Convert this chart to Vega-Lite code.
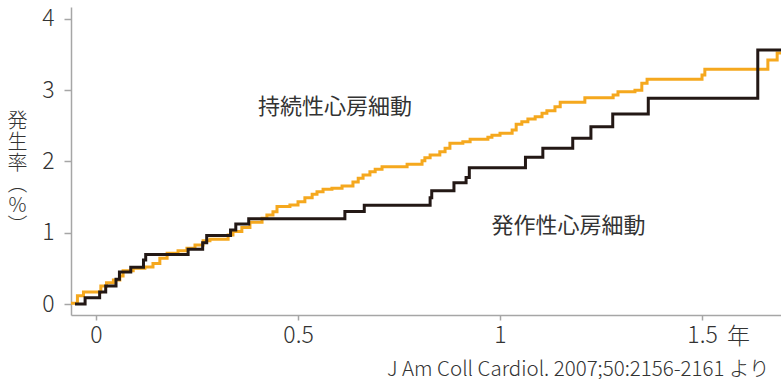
{
  "$schema": "https://vega.github.io/schema/vega-lite/v6.json",
  "width": 710,
  "height": 308,
  "autosize": {"type": "none"},
  "padding": {"left": 71, "top": 7, "right": 0, "bottom": 64},
  "background": "white",
  "config": {
    "view": {"stroke": null},
    "font": "Noto Sans CJK JP",
    "axis": {
      "grid": false,
      "domainColor": "#a6a6a6",
      "tickColor": "#a6a6a6",
      "domainWidth": 1.5,
      "tickWidth": 1.5,
      "labelColor": "#333333",
      "labelFont": "Noto Sans CJK JP",
      "labelFontSize": 23,
      "labelFontWeight": 300,
      "titleColor": "#333333",
      "titleFont": "Noto Sans CJK JP"
    }
  },
  "datasets": {
    "curves": [
      {"type": "持続性", "x": -0.064, "y": 0.01},
      {"type": "持続性", "x": -0.046, "y": 0.116},
      {"type": "持続性", "x": -0.031, "y": 0.168},
      {"type": "持続性", "x": 0.012, "y": 0.253},
      {"type": "持続性", "x": 0.026, "y": 0.299},
      {"type": "持続性", "x": 0.043, "y": 0.337},
      {"type": "持続性", "x": 0.059, "y": 0.393},
      {"type": "持続性", "x": 0.067, "y": 0.467},
      {"type": "持続性", "x": 0.092, "y": 0.501},
      {"type": "持続性", "x": 0.121, "y": 0.52},
      {"type": "持続性", "x": 0.141, "y": 0.568},
      {"type": "持続性", "x": 0.158, "y": 0.641},
      {"type": "持続性", "x": 0.176, "y": 0.712},
      {"type": "持続性", "x": 0.203, "y": 0.748},
      {"type": "持続性", "x": 0.225, "y": 0.782},
      {"type": "持続性", "x": 0.245, "y": 0.828},
      {"type": "持続性", "x": 0.265, "y": 0.888},
      {"type": "持続性", "x": 0.282, "y": 0.908},
      {"type": "持続性", "x": 0.327, "y": 0.968},
      {"type": "持続性", "x": 0.339, "y": 1.018},
      {"type": "持続性", "x": 0.361, "y": 1.074},
      {"type": "持続性", "x": 0.381, "y": 1.147},
      {"type": "持続性", "x": 0.411, "y": 1.203},
      {"type": "持続性", "x": 0.423, "y": 1.249},
      {"type": "持続性", "x": 0.438, "y": 1.295},
      {"type": "持続性", "x": 0.448, "y": 1.368},
      {"type": "持続性", "x": 0.48, "y": 1.389},
      {"type": "持続性", "x": 0.5, "y": 1.436},
      {"type": "持続性", "x": 0.517, "y": 1.492},
      {"type": "持続性", "x": 0.535, "y": 1.54},
      {"type": "持続性", "x": 0.547, "y": 1.576},
      {"type": "持続性", "x": 0.562, "y": 1.61},
      {"type": "持続性", "x": 0.584, "y": 1.624},
      {"type": "持続性", "x": 0.609, "y": 1.656},
      {"type": "持続性", "x": 0.636, "y": 1.712},
      {"type": "持続性", "x": 0.649, "y": 1.764},
      {"type": "持続性", "x": 0.661, "y": 1.811},
      {"type": "持続性", "x": 0.678, "y": 1.857},
      {"type": "持続性", "x": 0.691, "y": 1.891},
      {"type": "持続性", "x": 0.708, "y": 1.927},
      {"type": "持続性", "x": 0.77, "y": 1.961},
      {"type": "持続性", "x": 0.807, "y": 2.011},
      {"type": "持続性", "x": 0.814, "y": 2.053},
      {"type": "持続性", "x": 0.827, "y": 2.091},
      {"type": "持続性", "x": 0.851, "y": 2.138},
      {"type": "持続性", "x": 0.864, "y": 2.185},
      {"type": "持続性", "x": 0.876, "y": 2.255},
      {"type": "持続性", "x": 0.908, "y": 2.278},
      {"type": "持続性", "x": 0.926, "y": 2.312},
      {"type": "持続性", "x": 0.97, "y": 2.34},
      {"type": "持続性", "x": 0.98, "y": 2.368},
      {"type": "持続性", "x": 1.0, "y": 2.396},
      {"type": "持続性", "x": 1.03, "y": 2.442},
      {"type": "持続性", "x": 1.04, "y": 2.522},
      {"type": "持続性", "x": 1.054, "y": 2.559},
      {"type": "持続性", "x": 1.069, "y": 2.596},
      {"type": "持続性", "x": 1.087, "y": 2.629},
      {"type": "持続性", "x": 1.104, "y": 2.676},
      {"type": "持続性", "x": 1.116, "y": 2.713},
      {"type": "持続性", "x": 1.136, "y": 2.769},
      {"type": "持続性", "x": 1.149, "y": 2.831},
      {"type": "持続性", "x": 1.21, "y": 2.895},
      {"type": "持続性", "x": 1.28, "y": 2.933},
      {"type": "持続性", "x": 1.292, "y": 2.98},
      {"type": "持続性", "x": 1.334, "y": 3.0},
      {"type": "持続性", "x": 1.351, "y": 3.098},
      {"type": "持続性", "x": 1.364, "y": 3.154},
      {"type": "持続性", "x": 1.5, "y": 3.214},
      {"type": "持続性", "x": 1.507, "y": 3.294},
      {"type": "持続性", "x": 1.663, "y": 3.425},
      {"type": "持続性", "x": 1.686, "y": 3.523},
      {"type": "持続性", "x": 1.72, "y": 3.523},
      {"type": "発作性", "x": -0.052, "y": 0},
      {"type": "発作性", "x": -0.027, "y": 0.088},
      {"type": "発作性", "x": 0.009, "y": 0.168},
      {"type": "発作性", "x": 0.024, "y": 0.253},
      {"type": "発作性", "x": 0.0495, "y": 0.347},
      {"type": "発作性", "x": 0.058, "y": 0.449},
      {"type": "発作性", "x": 0.086, "y": 0.515},
      {"type": "発作性", "x": 0.1175, "y": 0.618},
      {"type": "発作性", "x": 0.123, "y": 0.695},
      {"type": "発作性", "x": 0.228, "y": 0.768},
      {"type": "発作性", "x": 0.264, "y": 0.86},
      {"type": "発作性", "x": 0.274, "y": 0.961},
      {"type": "発作性", "x": 0.333, "y": 1.039},
      {"type": "発作性", "x": 0.346, "y": 1.123},
      {"type": "発作性", "x": 0.378, "y": 1.197},
      {"type": "発作性", "x": 0.616, "y": 1.298},
      {"type": "発作性", "x": 0.664, "y": 1.385},
      {"type": "発作性", "x": 0.827, "y": 1.492},
      {"type": "発作性", "x": 0.831, "y": 1.59},
      {"type": "発作性", "x": 0.886, "y": 1.702},
      {"type": "発作性", "x": 0.916, "y": 1.775},
      {"type": "発作性", "x": 0.924, "y": 1.913},
      {"type": "発作性", "x": 1.063, "y": 2.059},
      {"type": "発作性", "x": 1.106, "y": 2.185},
      {"type": "発作性", "x": 1.18, "y": 2.326},
      {"type": "発作性", "x": 1.225, "y": 2.488},
      {"type": "発作性", "x": 1.279, "y": 2.667},
      {"type": "発作性", "x": 1.367, "y": 2.887},
      {"type": "発作性", "x": 1.638, "y": 3.565},
      {"type": "発作性", "x": 1.72, "y": 3.565}
    ]
  },
  "layer": [
    {
      "data": {"name": "curves"},
      "transform": [{"filter": "datum.type === '持続性'"}],
      "mark": {"type": "line", "interpolate": "step-after", "color": "#f5a81e", "strokeWidth": 3, "clip": true},
      "encoding": {
        "x": {
          "field": "x", "type": "quantitative",
          "scale": {"domain": [-0.0619, 1.6955], "nice": false, "zero": false},
          "axis": {"orient": "bottom", "values": [0, 0.5, 1, 1.5], "format": "~g", "tickSize": 5, "labelPadding": 4, "title": null, "labelFlush": false}
        },
        "y": {
          "field": "y", "type": "quantitative",
          "scale": {"domain": [-0.154, 4.168], "nice": false, "zero": false},
          "axis": {
            "values": [0, 1, 2, 3, 4], "format": "d", "tickSize": 7, "labelPadding": 10,
            "title": ["発", "生", "率", "︵", "%", "︶"],
            "titleAngle": 0, "titleAlign": "center", "titleBaseline": "top",
            "titleX": -54, "titleY": 104, "titleFontSize": 20, "titleFontWeight": 300, "titleLineHeight": 21
          }
        }
      }
    },
    {
      "mark": {"type": "rule", "color": "#a6a6a6", "strokeWidth": 1.5},
      "encoding": {
        "y": {"datum": 4.168, "type": "quantitative"}
      }
    },
    {
      "data": {"name": "curves"},
      "transform": [{"filter": "datum.type === '発作性'"}],
      "mark": {"type": "line", "interpolate": "step-after", "color": "#231815", "strokeWidth": 3, "clip": true},
      "encoding": {
        "x": {"field": "x", "type": "quantitative"},
        "y": {"field": "y", "type": "quantitative"}
      }
    },
    {
      "data": {"values": [
        {"x": 0.401, "y": 2.765, "text": "持続性心房細動"},
        {"x": 0.979, "y": 1.088, "text": "発作性心房細動"}
      ]},
      "mark": {"type": "text", "align": "left", "baseline": "middle", "fontSize": 22, "color": "#333333", "font": "Noto Sans CJK JP"},
      "encoding": {
        "x": {"field": "x", "type": "quantitative"},
        "y": {"field": "y", "type": "quantitative"},
        "text": {"field": "text"}
      }
    },
    {
      "data": {"values": [{"x": 1.562, "y": -0.56, "text": "年"}]},
      "mark": {"type": "text", "align": "left", "baseline": "alphabetic", "fontSize": 23, "fontWeight": 300, "color": "#333333", "font": "Noto Sans CJK JP"},
      "encoding": {
        "x": {"field": "x", "type": "quantitative"},
        "y": {"field": "y", "type": "quantitative"},
        "text": {"field": "text"}
      }
    },
    {
      "data": {"values": [{"x": 0.72, "y": -1.01, "text": "J Am Coll Cardiol. 2007;50:2156-2161 より"}]},
      "mark": {"type": "text", "align": "left", "baseline": "alphabetic", "fontSize": 20.5, "fontWeight": 300, "color": "#333333", "font": "Noto Sans CJK JP"},
      "encoding": {
        "x": {"field": "x", "type": "quantitative"},
        "y": {"field": "y", "type": "quantitative"},
        "text": {"field": "text"}
      }
    }
  ]
}
